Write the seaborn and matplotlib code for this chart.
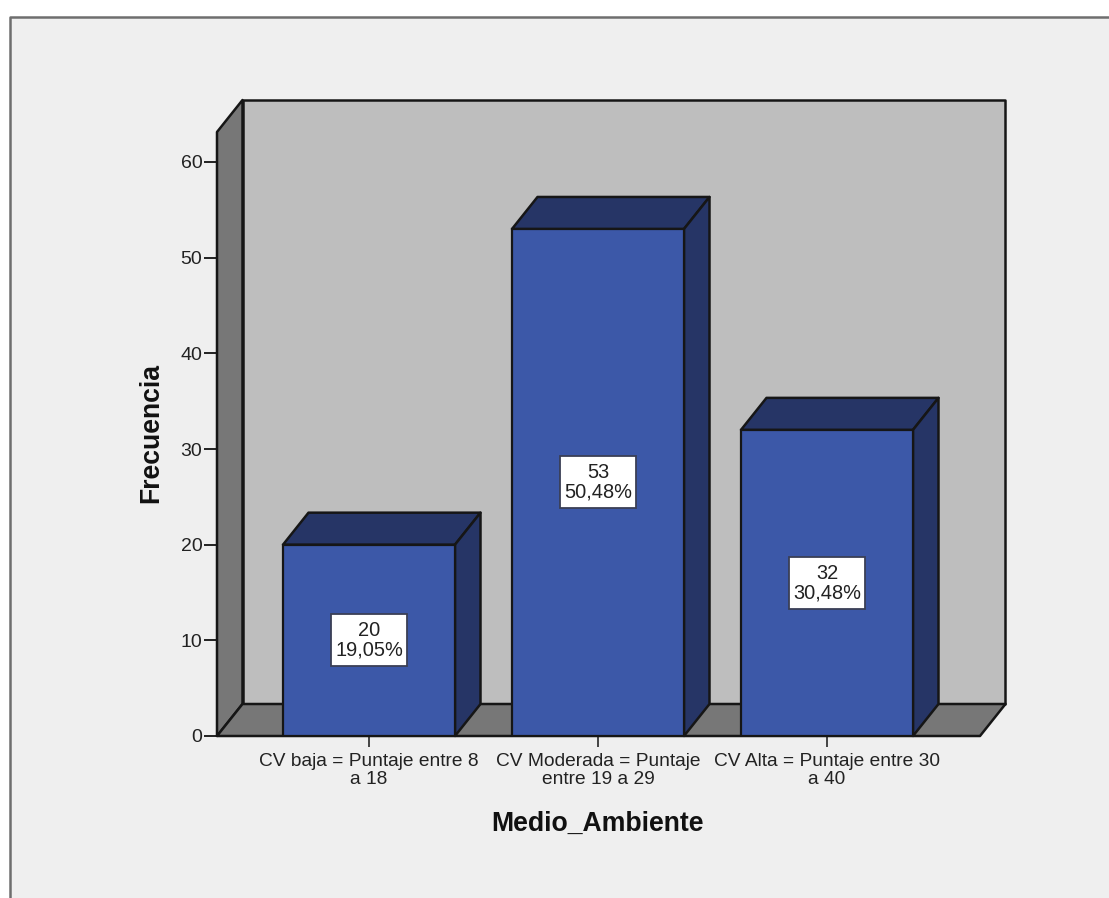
import matplotlib
matplotlib.use("Agg")
import matplotlib.pyplot as plt
import matplotlib.patches as mpatches
import seaborn as sns
import pandas as pd

categorias = ["CV baja = Puntaje entre 8\na 18",
              "CV Moderada = Puntaje\nentre 19 a 29",
              "CV Alta = Puntaje entre 30\na 40"]
frecuencias = [20, 53, 32]
porcentajes = ["19,05%", "50,48%", "30,48%"]
ticks_y = [0, 10, 20, 30, 40, 50, 60]

W, H = 1109, 898
px_unidad = 574 / 60
px_cat = 229
ancho_barra = 172 / 229
dx = 25.5 / px_cat      # profundidad 3D en unidades de datos
dy = 32 / px_unidad

azul = "#3C58A8"
azul_osc = "#263566"
gris_pared = "#BEBEBE"
gris_osc = "#777777"
fondo = "#EFEFEF"
borde = "#161616"

sns.set_theme(style="white")
plt.rcParams["font.family"] = ["Liberation Sans", "DejaVu Sans"]

fig = plt.figure(figsize=(W / 100, H / 100), dpi=100, facecolor="white")

# panel de fondo con borde gris arriba y a la izquierda
fig.add_artist(mpatches.Rectangle((10 / W, 0), 1, 1 - 17 / H, transform=fig.transFigure,
                                  facecolor=fondo, edgecolor="none", zorder=-5))
fig.add_artist(plt.Line2D([10 / W, 10 / W, 1], [0, 1 - 17 / H, 1 - 17 / H], color="#6E6E6E",
                          lw=1.8, zorder=-4))

ax = fig.add_axes([217 / W, 1 - 736 / H, 763 / W, 604 / H])
ax.patch.set_visible(False)

df = pd.DataFrame({"categoria": categorias, "frecuencia": frecuencias})
sns.barplot(data=df, x="categoria", y="frecuencia", color=azul, saturation=1, width=ancho_barra,
            edgecolor=borde, linewidth=1.6, ax=ax, zorder=5)

x0, x1 = -152 / px_cat, 2 + 153 / px_cat
y1 = 604 / px_unidad
ax.set_xlim(x0, x1)
ax.set_ylim(0, y1)

lw = 1.8
estilo = dict(edgecolor=borde, lw=lw, clip_on=False, joinstyle="round")
# pared trasera, lateral y suelo
ax.add_patch(mpatches.Polygon([(x0 + dx, dy), (x1 + dx, dy), (x1 + dx, y1 + dy), (x0 + dx, y1 + dy)],
                              facecolor=gris_pared, zorder=1, **estilo))
ax.add_patch(mpatches.Polygon([(x0, 0), (x0 + dx, dy), (x0 + dx, y1 + dy), (x0, y1)],
                              facecolor=gris_osc, zorder=2, **estilo))
ax.add_patch(mpatches.Polygon([(x0, 0), (x1, 0), (x1 + dx, dy), (x0 + dx, dy)],
                              facecolor=gris_osc, zorder=2, **estilo))

# caras superior y lateral de cada barra
for i, v in enumerate(frecuencias):
    izq, der = i - ancho_barra / 2, i + ancho_barra / 2
    ax.add_patch(mpatches.Polygon([(izq, v), (der, v), (der + dx, v + dy), (izq + dx, v + dy)],
                                  facecolor=azul_osc, zorder=4, **estilo))
    ax.add_patch(mpatches.Polygon([(der, 0), (der + dx, dy), (der + dx, v + dy), (der, v)],
                                  facecolor=azul_osc, zorder=4, **estilo))
    # etiqueta con recuadro blanco
    ax.add_patch(mpatches.Rectangle((i - 38 / px_cat, v / 2 - 26 / px_unidad), 76 / px_cat, 52 / px_unidad,
                                    facecolor="white", edgecolor="#3A3F55", lw=1.3, zorder=6))
    ax.text(i, v / 2 + 9.5 / px_unidad, str(v), ha="center", va="center", fontsize=14.4,
            color="#222222", zorder=7)
    ax.text(i, v / 2 - 10 / px_unidad, porcentajes[i], ha="center", va="center", fontsize=14.4,
            color="#222222", zorder=7)

for s in ax.spines.values():
    s.set_visible(False)

ax.set_yticks(ticks_y)
ax.tick_params(axis="y", left=True, length=9.5, width=1.4, color="#222222", pad=1,
               labelsize=14, labelcolor="#222222")
ax.set_xticks(range(len(categorias)))
ax.set_xticklabels(categorias, linespacing=1.08)
ax.tick_params(axis="x", bottom=True, length=8, width=1.4, color="#444444", pad=4.5,
               labelsize=13.8, labelcolor="#222222")

ax.set_xlabel("")
ax.set_ylabel("")
fig.text(151 / W, 1 - 433 / H, "Frecuencia", rotation=90, ha="center", va="center",
         fontsize=19.2, fontweight="bold", color="#111111")
fig.text(597.5 / W, 1 - 823.5 / H, "Medio_Ambiente", ha="center", va="center",
         fontsize=19.2, fontweight="bold", color="#111111")

fig.savefig("out.png", dpi=100, facecolor="white")
